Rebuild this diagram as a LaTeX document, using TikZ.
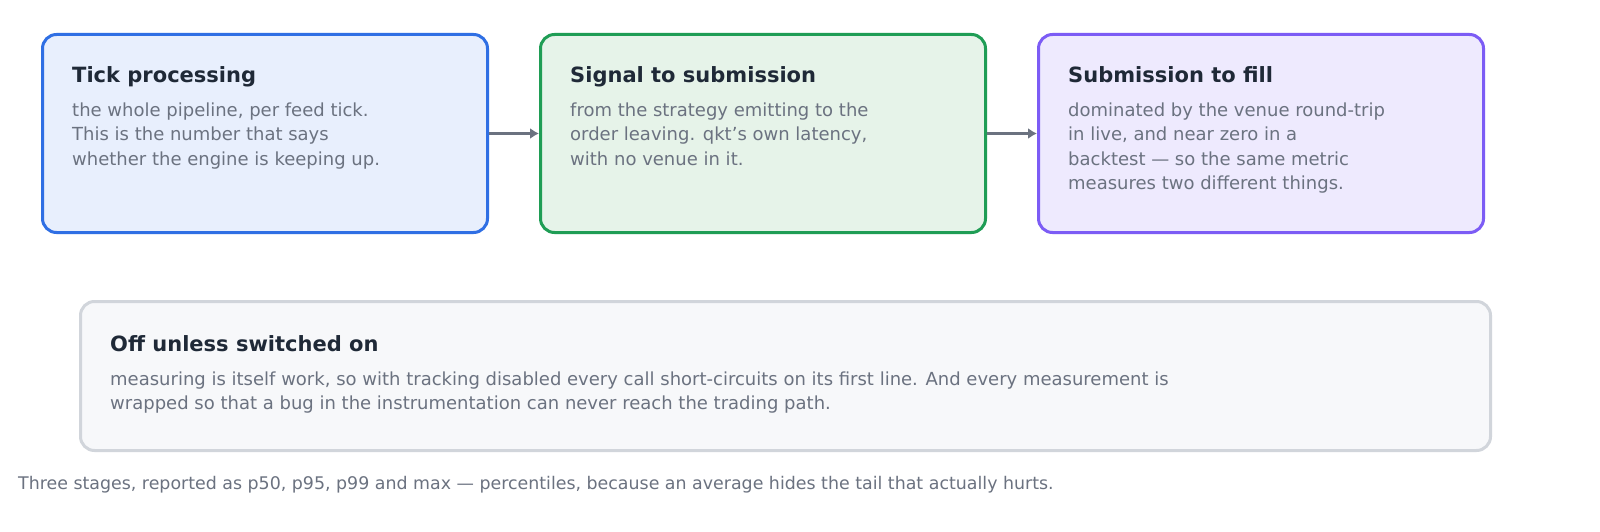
\documentclass[tikz,border=0pt]{standalone}
\usepackage{fontspec}
\setmainfont{DejaVu Sans}
\usetikzlibrary{arrows.meta}
\definecolor{bB}{HTML}{2F6FE4}\definecolor{fB}{HTML}{E8EFFD}
\definecolor{bG}{HTML}{1F9D55}\definecolor{fG}{HTML}{E6F3E9}
\definecolor{bP}{HTML}{7C5CF5}\definecolor{fP}{HTML}{EEEAFE}
\definecolor{bK}{HTML}{D1D5DB}\definecolor{fK}{HTML}{F7F8FA}
\definecolor{tT}{HTML}{1F2937}\definecolor{tB}{HTML}{6B7280}
\begin{document}
\begin{tikzpicture}[x=1pt,y=-1pt,
 box/.style={draw=#1,line width=3pt,rounded corners=14pt},
 ttl/.style={anchor=base west,inner sep=0,text=tT,font=\fontsize{21}{24}\selectfont\bfseries},
 bod/.style={anchor=base west,inner sep=0,text=tB,font=\fontsize{18}{24}\selectfont},
 arr/.style={draw=tB,line width=3pt,-{Latex[length=9pt,width=11pt]}}]
\useasboundingbox[fill=white] (0,0) rectangle (1600,532);
\node[box=bB,fill=fB,minimum width=445pt,minimum height=198pt,anchor=north west] (b1) at (41,33) {};
\node[box=bG,fill=fG,minimum width=445pt,minimum height=198pt,anchor=north west] (b2) at (539,33) {};
\node[box=bP,fill=fP,minimum width=445pt,minimum height=198pt,anchor=north west] (b3) at (1037,33) {};
\node[box=bK,fill=fK,minimum width=1410pt,minimum height=149pt,anchor=north west] (b4) at (79,300) {};
\node[ttl] (t1) at (72,83) {Tick processing};
\node[bod] (d1a) at (72,117) {the whole pipeline, per feed tick.};
\node[bod] (d1b) at (72,141) {This is the number that says};
\node[bod] (d1c) at (72,165) {whether the engine is keeping up.};
\node[ttl] (t2) at (570,83) {Signal to submission};
\node[bod] (d2a) at (570,117) {from the strategy emitting to the};
\node[bod] (d2b) at (570,141) {order leaving. qkt's own latency,};
\node[bod] (d2c) at (570,165) {with no venue in it.};
\node[ttl] (t3) at (1068,83) {Submission to fill};
\node[bod] (d3a) at (1068,117) {dominated by the venue round-trip};
\node[bod] (d3b) at (1068,141) {in live, and near zero in a};
\node[bod] (d3c) at (1068,165) {backtest — so the same metric};
\node[bod] (d3d) at (1068,189) {measures two different things.};
\node[ttl] (t4) at (110,351) {Off unless switched on};
\node[bod] (d4a) at (110,385) {measuring is itself work, so with tracking disabled every call short-circuits on its first line. And every measurement is};
\node[bod] (d4b) at (110,409) {wrapped so that a bug in the instrumentation can never reach the trading path.};
\draw[arr] (b1.east) -- (b2.west);
\draw[arr] (b2.east) -- (b3.west);
\node[anchor=base west,inner sep=0,text=tB,font=\fontsize{17.4}{20}\selectfont] (cap) at (18,489) {Three stages, reported as p50, p95, p99 and max — percentiles, because an average hides the tail that actually hurts.};
\end{tikzpicture}
\end{document}
